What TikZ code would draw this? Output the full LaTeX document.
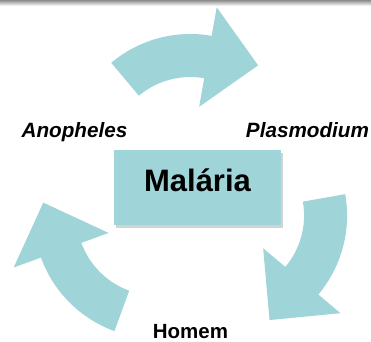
\documentclass[tikz,border=0pt]{standalone}
\usepackage{fontspec}
\setmainfont{Liberation Sans}
\usetikzlibrary{positioning, shadows, calc}
\definecolor{CycleTeal}{RGB}{159,212,216}

\tikzset{
  cyclearrow/.pic={
    \fill[CycleTeal] (130:123pt) arc[start angle=130, end angle=80, radius=123pt]
      -- (80:152pt) -- (53.5:114pt) -- (80:51pt) -- (80:80pt)
      arc[start angle=80, end angle=130, radius=80pt] -- cycle;
  },
  stagelabel/.style={font=\fontsize{20.7}{24}\selectfont\bfseries\itshape, anchor=base},
  diseasebox/.style={fill=CycleTeal, minimum width=167pt, minimum height=75pt,
    inner sep=0pt, text height=.72em, text depth=0pt,
    font=\fontsize{31}{36}\selectfont\bfseries,
    drop shadow={opacity=.35, shadow xshift=2pt, shadow yshift=-2.5pt}}
}

\begin{document}
\begin{tikzpicture}[x=1pt, y=1pt]
  \useasboundingbox (0,0) rectangle (371,341);
  % top edge shade of the slide
  \shade[top color=black!45, bottom color=white] (0,335) rectangle (371,341);

  % the three curved arrows of the cycle
  \coordinate (hub) at (190.3,145);
  \foreach \k in {0,1,2}
    \pic[shift={($(hub)+({90-120*\k}:39pt)$)}, rotate={-120*\k}] {cyclearrow};

  % centre and stages
  \node[diseasebox] (malaria) at (197.5,153.5) {Malária};
  \node[stagelabel] (anopheles) at (74.5,204) {Anopheles};
  \node[stagelabel] (plasmodium) at (307.5,204) {Plasmodium};
  \node[stagelabel, font=\fontsize{20.5}{24}\selectfont\bfseries] (homem) at (190.5,3) {Homem};
\end{tikzpicture}
\end{document}
